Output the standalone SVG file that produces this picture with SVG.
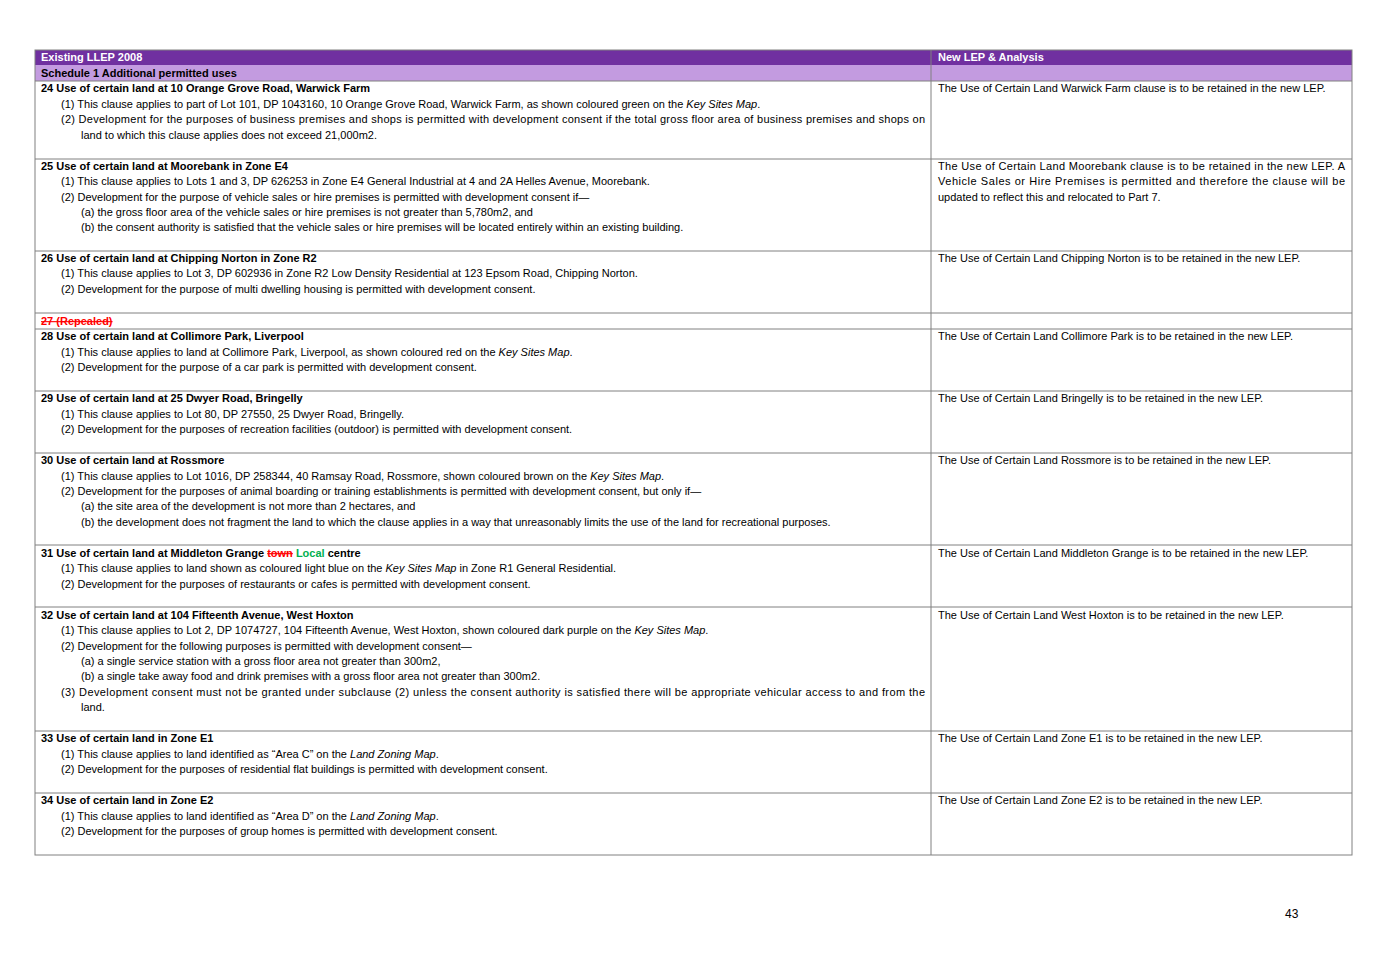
<svg xmlns="http://www.w3.org/2000/svg" width="1382" height="977" viewBox="0 0 1382 977">
<style>
text{font-family:"Liberation Sans",Arial,sans-serif;font-size:11px;fill:#000}
.b{font-weight:bold}
.w{fill:#fff;font-weight:bold}
.i{font-style:italic}
.ln{stroke:#808080;stroke-width:1;fill:none}
.red{fill:#ff0000;font-weight:bold;text-decoration:line-through}
.grn{fill:#00b050;font-weight:bold}
</style>
<rect width="1382" height="977" fill="#fff"/>
<g id="header">
<rect x="35" y="50" width="1317" height="15" fill="#7030a0"/>
<rect x="35" y="65" width="1317" height="16" fill="#c39be0"/>
<text x="41" y="61" class="w">Existing LLEP 2008</text>
<text x="938" y="61" class="w">New LEP &amp; Analysis</text>
<text x="41" y="77" class="b">Schedule 1 Additional permitted uses</text>
</g>
<g id="grid">
<rect x="35" y="50" width="1317" height="805" class="ln"/>
<line x1="931" y1="50" x2="931" y2="855" class="ln"/>
<line x1="35" y1="81" x2="1352" y2="81" class="ln"/>
<line x1="35" y1="159" x2="1352" y2="159" class="ln"/>
<line x1="35" y1="251" x2="1352" y2="251" class="ln"/>
<line x1="35" y1="313" x2="1352" y2="313" class="ln"/>
<line x1="35" y1="329" x2="1352" y2="329" class="ln"/>
<line x1="35" y1="391" x2="1352" y2="391" class="ln"/>
<line x1="35" y1="453" x2="1352" y2="453" class="ln"/>
<line x1="35" y1="545" x2="1352" y2="545" class="ln"/>
<line x1="35" y1="607" x2="1352" y2="607" class="ln"/>
<line x1="35" y1="731" x2="1352" y2="731" class="ln"/>
<line x1="35" y1="793" x2="1352" y2="793" class="ln"/>
</g>
<g id="r24">
<text x="41" y="92" class="b">24   Use of certain land at 10 Orange Grove Road, Warwick Farm</text>
<text x="61" y="108">(1)  This clause applies to part of Lot 101, DP 1043160, 10 Orange Grove Road, Warwick Farm, as shown coloured green on the <tspan class="i">Key Sites Map</tspan>.</text>
<text x="61" y="123" textLength="864" lengthAdjust="spacing">(2)  Development for the purposes of business premises and shops is permitted with development consent if the total gross floor area of business premises and shops on</text>
<text x="81" y="139">land to which this clause applies does not exceed 21,000m2.</text>
<text x="938" y="92">The Use of Certain Land Warwick Farm clause is to be retained in the new LEP.</text>
</g>
<g id="r25">
<text x="41" y="170" class="b">25   Use of certain land at Moorebank in Zone E4</text>
<text x="61" y="185">(1)  This clause applies to Lots 1 and 3, DP 626253 in Zone E4 General Industrial at 4 and 2A Helles Avenue, Moorebank.</text>
<text x="61" y="201">(2)  Development for the purpose of vehicle sales or hire premises is permitted with development consent if—</text>
<text x="81" y="216">(a)  the gross floor area of the vehicle sales or hire premises is not greater than 5,780m2, and</text>
<text x="81" y="231">(b)  the consent authority is satisfied that the vehicle sales or hire premises will be located entirely within an existing building.</text>
<text x="938" y="170" textLength="407" lengthAdjust="spacing">The Use of Certain Land Moorebank clause is to be retained in the new LEP. A</text>
<text x="938" y="185" textLength="407" lengthAdjust="spacing">Vehicle Sales or Hire Premises is permitted and therefore the clause will be</text>
<text x="938" y="201">updated to reflect this and relocated to Part 7.</text>
</g>
<g id="r26">
<text x="41" y="262" class="b">26   Use of certain land at Chipping Norton in Zone R2</text>
<text x="61" y="277">(1)  This clause applies to Lot 3, DP 602936 in Zone R2 Low Density Residential at 123 Epsom Road, Chipping Norton.</text>
<text x="61" y="293">(2)  Development for the purpose of multi dwelling housing is permitted with development consent.</text>
<text x="938" y="262">The Use of Certain Land Chipping Norton is to be retained in the new LEP.</text>
</g>
<g id="r27">
<text x="41" y="325" class="red">27   (Repealed)</text>
</g>
<g id="r28">
<text x="41" y="340" class="b">28   Use of certain land at Collimore Park, Liverpool</text>
<text x="61" y="356">(1)  This clause applies to land at Collimore Park, Liverpool, as shown coloured red on the <tspan class="i">Key Sites Map</tspan>.</text>
<text x="61" y="371">(2)  Development for the purpose of a car park is permitted with development consent.</text>
<text x="938" y="340">The Use of Certain Land Collimore Park is to be retained in the new LEP.</text>
</g>
<g id="r29">
<text x="41" y="402" class="b">29   Use of certain land at 25 Dwyer Road, Bringelly</text>
<text x="61" y="418">(1)  This clause applies to Lot 80, DP 27550, 25 Dwyer Road, Bringelly.</text>
<text x="61" y="433">(2)  Development for the purposes of recreation facilities (outdoor) is permitted with development consent.</text>
<text x="938" y="402">The Use of Certain Land Bringelly is to be retained in the new LEP.</text>
</g>
<g id="r30">
<text x="41" y="464" class="b">30   Use of certain land at Rossmore</text>
<text x="61" y="480">(1)  This clause applies to Lot 1016, DP 258344, 40 Ramsay Road, Rossmore, shown coloured brown on the <tspan class="i">Key Sites Map</tspan>.</text>
<text x="61" y="495">(2)  Development for the purposes of animal boarding or training establishments is permitted with development consent, but only if—</text>
<text x="81" y="510">(a)  the site area of the development is not more than 2 hectares, and</text>
<text x="81" y="526">(b)  the development does not fragment the land to which the clause applies in a way that unreasonably limits the use of the land for recreational purposes.</text>
<text x="938" y="464">The Use of Certain Land Rossmore is to be retained in the new LEP.</text>
</g>
<g id="r31">
<text x="41" y="557" class="b">31   Use of certain land at Middleton Grange <tspan class="red">town</tspan> <tspan class="grn">Local</tspan> centre</text>
<text x="61" y="572">(1)  This clause applies to land shown as coloured light blue on the <tspan class="i">Key Sites Map</tspan> in Zone R1 General Residential.</text>
<text x="61" y="588">(2)  Development for the purposes of restaurants or cafes is permitted with development consent.</text>
<text x="938" y="557">The Use of Certain Land Middleton Grange is to be retained in the new LEP.</text>
</g>
<g id="r32">
<text x="41" y="619" class="b">32   Use of certain land at 104 Fifteenth Avenue, West Hoxton</text>
<text x="61" y="634">(1)  This clause applies to Lot 2, DP 1074727, 104 Fifteenth Avenue, West Hoxton, shown coloured dark purple on the <tspan class="i">Key Sites Map</tspan>.</text>
<text x="61" y="650">(2)  Development for the following purposes is permitted with development consent—</text>
<text x="81" y="665">(a)  a single service station with a gross floor area not greater than 300m2,</text>
<text x="81" y="680">(b)  a single take away food and drink premises with a gross floor area not greater than 300m2.</text>
<text x="61" y="696" textLength="864" lengthAdjust="spacing">(3)  Development consent must not be granted under subclause (2) unless the consent authority is satisfied there will be appropriate vehicular access to and from the</text>
<text x="81" y="711">land.</text>
<text x="938" y="619">The Use of Certain Land West Hoxton is to be retained in the new LEP.</text>
</g>
<g id="r33">
<text x="41" y="742" class="b">33   Use of certain land in Zone E1</text>
<text x="61" y="758">(1)  This clause applies to land identified as “Area C” on the <tspan class="i">Land Zoning Map</tspan>.</text>
<text x="61" y="773">(2)  Development for the purposes of residential flat buildings is permitted with development consent.</text>
<text x="938" y="742">The Use of Certain Land Zone E1 is to be retained in the new LEP.</text>
</g>
<g id="r34">
<text x="41" y="804" class="b">34   Use of certain land in Zone E2</text>
<text x="61" y="820">(1)  This clause applies to land identified as “Area D” on the <tspan class="i">Land Zoning Map</tspan>.</text>
<text x="61" y="835">(2)  Development for the purposes of group homes is permitted with development consent.</text>
<text x="938" y="804">The Use of Certain Land Zone E2 is to be retained in the new LEP.</text>
</g>
<text x="1285" y="918" style="font-size:12px">43</text>
</svg>
